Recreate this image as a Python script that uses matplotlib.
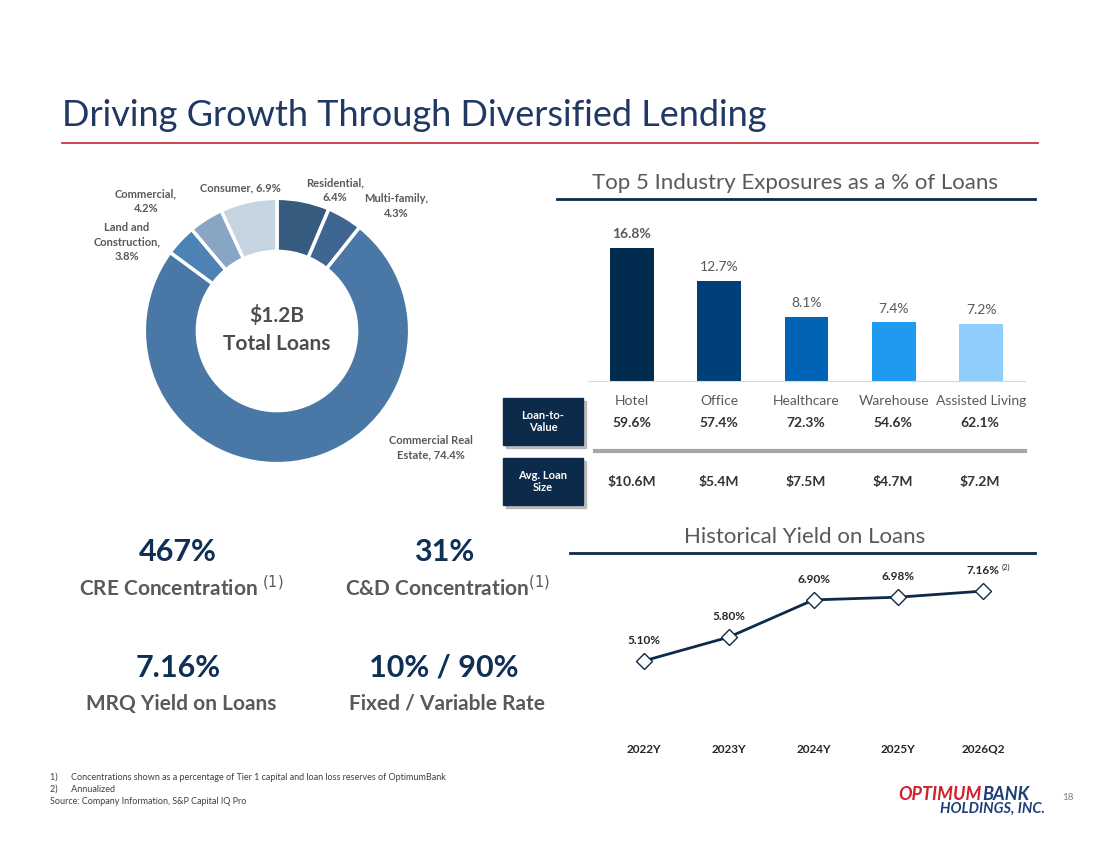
import matplotlib
matplotlib.use("Agg")
import matplotlib.pyplot as plt
from matplotlib.patches import Rectangle

plt.rcParams['font.family'] = ['Lato', 'DejaVu Sans']

# Datos
donut_labels = ['Residential,\n6.4%', 'Multi-family,\n4.3%', 'Commercial Real\nEstate, 74.4%',
                'Land and\nConstruction,\n3.8%', 'Commercial,\n4.2%', 'Consumer, 6.9%']
donut_values = [6.4, 4.3, 74.4, 3.8, 4.2, 6.9]
donut_colors = ['#375a7f', '#3e6690', '#4a78a6', '#4d82b4', '#88a5c4', '#c6d3e1']

industrias = ['Hotel', 'Office', 'Healthcare', 'Warehouse', 'Assisted Living']
exposicion = [16.8, 12.7, 8.1, 7.4, 7.2]
ltv = ['59.6%', '57.4%', '72.3%', '54.6%', '62.1%']
avg_loan = ['$10.6M', '$5.4M', '$7.5M', '$4.7M', '$7.2M']
bar_colors = ['#002a4e', '#003f7a', '#0063b5', '#1e9bf0', '#8fcdfa']

periodos = ['2022Y', '2023Y', '2024Y', '2025Y', '2026Q2']
rendimiento = [5.10, 5.80, 6.90, 6.98, 7.16]

W, H = 1100, 849
NAVY = '#0c2a4a'
GRAY = '#595959'
fig = plt.figure(figsize=(W / 100, H / 100), dpi=100)


def px(x, y):
    return x / W, 1 - y / H


def txt(x, y, s, **kw):
    fig.text(*px(x, y), s, **kw)


def hline(x0, x1, y, color, lw):
    fig.add_artist(plt.Line2D([x0 / W, x1 / W], [1 - y / H] * 2, color=color, lw=lw))


def axes_px(l, t, r, b):
    return fig.add_axes([l / W, 1 - b / H, (r - l) / W, (b - t) / H])


# Titulo
txt(62, 115, 'Driving Growth Through Diversified Lending', fontsize=26, color='#1f3864', va='center')
hline(62, 1038, 143, '#c0282f', 1.2)

# Donut
ax = axes_px(143, 197, 411, 465)
ax.pie(donut_values, colors=donut_colors, startangle=90, counterclock=False,
       wedgeprops=dict(width=0.4, edgecolor='white', linewidth=2.5))
ax.set_xlim(-1.01, 1.01)
ax.set_ylim(-1.01, 1.01)
ax.set_aspect('equal')
ax.text(0, 0.12, '$1.2B', ha='center', va='center', fontsize=15, weight='bold', color='#4d4d4d')
ax.text(0, -0.1, 'Total Loans', ha='center', va='center', fontsize=15, weight='bold', color='#4d4d4d')
label_pos = [(335, 190), (396, 206), (431, 448), (127, 242), (146, 201), (240, 188)]
for (x, y), lab in zip(label_pos, donut_labels):
    txt(x, y, lab, ha='center', va='center', fontsize=8, weight='bold', color=GRAY, linespacing=1.4)

# Barras
txt(795, 183, 'Top 5 Industry Exposures as a % of Loans', ha='center', va='center', fontsize=16, color=GRAY)
hline(557, 1035, 199, NAVY, 2)
ax2 = axes_px(588, 230, 1025, 381)
x = range(len(industrias))
bars = ax2.bar(x, exposicion, width=0.5, color=bar_colors)
ax2.set_xlim(-0.5, 4.5)
ax2.set_ylim(0, 19.1)
for b, v in zip(bars, exposicion):
    ax2.text(b.get_x() + b.get_width() / 2, v + 1.0, f'{v:.1f}%', ha='center', va='bottom',
             fontsize=10, color=GRAY, weight='bold' if v > 16 else 'normal')
for s in ['top', 'right', 'left']:
    ax2.spines[s].set_visible(False)
ax2.spines['bottom'].set_color('#d9d9d9')
ax2.set_yticks([])
ax2.set_xticks(list(x))
ax2.set_xticklabels(industrias, fontsize=10, color=GRAY)
ax2.tick_params(axis='x', length=0, pad=10)
for i in x:
    cx = 632 + i * 87
    txt(cx, 423, ltv[i], ha='center', va='center', fontsize=10, weight='bold', color='#333333')
    txt(cx, 482, avg_loan[i], ha='center', va='center', fontsize=10, weight='bold', color='#333333')
hline(595, 1025, 451, '#a6a6a6', 3)
for (y0, y1, lab) in [(398, 445, 'Loan-to-\nValue'), (458, 505, 'Avg. Loan\nSize')]:
    fig.add_artist(Rectangle(px(506, y1 + 3), 80 / W, (y1 - y0) / H, transform=fig.transFigure,
                             color='#9a9a9a', alpha=0.6))
    fig.add_artist(Rectangle(px(503, y1), 80 / W, (y1 - y0) / H, transform=fig.transFigure, color=NAVY))
    txt(543, (y0 + y1) / 2, lab, ha='center', va='center', fontsize=8, weight='bold', color='white')

# Linea
txt(805, 537, 'Historical Yield on Loans', ha='center', va='center', fontsize=16, color=GRAY)
hline(570, 1035, 553, NAVY, 2)
ax3 = axes_px(601.5, 565, 1025.5, 730)
ax3.plot(range(len(periodos)), rendimiento, color=NAVY, lw=2, marker='D', ms=8,
         mfc='white', mec=NAVY, mew=1)
ax3.set_xlim(-0.5, 4.5)
ax3.set_ylim(3.06, 7.93)
for i, v in enumerate(rendimiento):
    ax3.text(i, v + 0.45, f'{v:.2f}%', ha='center', va='bottom', fontsize=8.5, weight='bold', color='#262626')
ax3.text(4.22, 7.16 + 0.62, '(2)', fontsize=5.5, color='#262626')
for s in ax3.spines.values():
    s.set_visible(False)
ax3.set_yticks([])
ax3.set_xticks(range(len(periodos)))
ax3.set_xticklabels(periodos, fontsize=8.5, weight='bold', color='#262626')
ax3.tick_params(axis='x', length=0, pad=10)

# Indicadores
stats = [(178, 552, '467%', 'CRE Concentration $^{(1)}$'), (444, 552, '31%', 'C&D Concentration$^{(1)}$'),
         (178, 668, '7.16%', 'MRQ Yield on Loans'), (444, 668, '10% / 90%', 'Fixed / Variable Rate')]
for xs, ys, big, small in stats:
    txt(xs, ys, big, ha='center', va='center', fontsize=22, weight='bold', color='#0f2f55')
    txt(xs + 3, ys + 36, small, ha='center', va='center', fontsize=15, weight='bold', color=GRAY)

# Notas
notas = ['1)      Concentrations shown as a percentage of Tier 1 capital and loan loss reserves of OptimumBank',
         '2)      Annualized', 'Source: Company Information, S&P Capital IQ Pro']
for i, n in enumerate(notas):
    txt(50, 777 + i * 12, n, va='center', fontsize=6.5, color='#404040')

# Logo
txt(982, 795, 'OPTIMUM', fontsize=13, weight='bold', style='italic', color='#d0202e', va='center', ha='right')
txt(982, 795, 'BANK', fontsize=13, weight='bold', style='italic', color='#1a3f7a', va='center', ha='left')
txt(1045, 809, 'HOLDINGS, INC.', fontsize=10.5, weight='bold', style='italic', color='#1a3f7a',
    va='center', ha='right')
txt(1062, 798, '18', fontsize=7, color='#808080', va='center')

fig.savefig('out.png', dpi=100)
